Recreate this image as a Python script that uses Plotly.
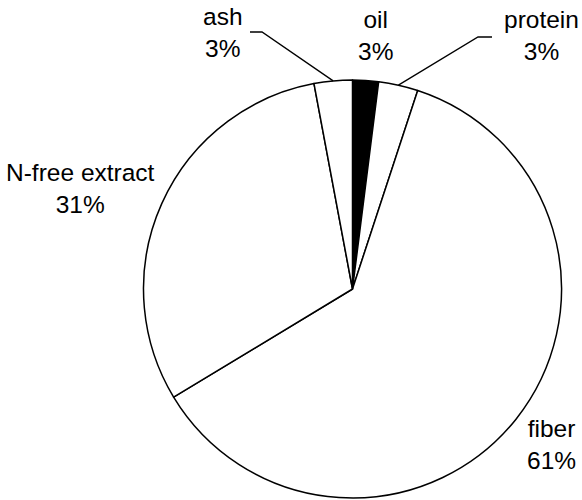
import math
import plotly.graph_objects as go

# ---- data (clockwise from 12 o'clock) ----
categories = ["oil", "protein", "fiber", "N-free extract", "ash"]
values = [2.0, 3.05, 61.3, 30.7, 2.95]
pct_labels = ["3%", "3%", "61%", "31%", "3%"]
slice_colors = ["#000000", "#ffffff", "#ffffff", "#ffffff", "#ffffff"]

# ---- layout constants (pixels in a 582x500 canvas) ----
W, H = 582, 500
CX, CY, R = 352.5, 289.0, 209.0
label_pos = {            # label block centres
    "oil": (375, 35),
    "protein": (541, 35),
    "fiber": (551, 444),
    "N-free extract": (80, 188),
    "ash": (223, 32),
}
leader_elbows = {        # elbow point, end point of leader line
    "ash": [(262, 32), (250, 32)],
    "protein": [(478, 37), (492, 37)],
}

def px(x):
    return x / W

def py(y):
    return 1 - y / H

fig = go.Figure()
fig.add_trace(go.Pie(
    labels=categories,
    values=values,
    sort=False,
    direction="clockwise",
    rotation=0,
    textinfo="none",
    hoverinfo="label+percent",
    showlegend=False,
    marker=dict(colors=slice_colors, line=dict(color="#000000", width=1.5)),
    domain=dict(x=[px(CX - R), px(CX + R)], y=[py(CY + R), py(CY - R)]),
))

# slice mid-angles from the data
total = sum(values)
mid_angle = {}
acc = 0.0
for c, v in zip(categories, values):
    mid_angle[c] = (acc + v / 2) / total * 360.0
    acc += v

annotations = []
for c, t in zip(categories, pct_labels):
    x, y = label_pos[c]
    annotations.append(dict(
        x=px(x), y=py(y), xref="paper", yref="paper",
        text=f"{c}<br>{t}", showarrow=False,
        xanchor="center", yanchor="middle", align="center",
        font=dict(family="Arial, Liberation Sans, sans-serif", size=24.5, color="#000000"),
    ))

shapes = []
for c, pts in leader_elbows.items():
    a = math.radians(mid_angle[c])
    ex, ey = CX + R * math.sin(a), CY - R * math.cos(a)
    path_pts = [(ex, ey)] + pts
    path = "M " + " L ".join(f"{px(x):.5f},{py(y):.5f}" for x, y in path_pts)
    shapes.append(dict(type="path", path=path, xref="paper", yref="paper",
                       line=dict(color="#000000", width=1.3)))

fig.update_layout(
    width=W, height=H,
    margin=dict(l=0, r=0, t=0, b=0),
    paper_bgcolor="#ffffff",
    plot_bgcolor="#ffffff",
    annotations=annotations,
    shapes=shapes,
)

fig.write_html(
    "out.html",
    config={"displayModeBar": False},
    post_script="document.body.style.margin='0';document.body.style.overflow='hidden';",
)
